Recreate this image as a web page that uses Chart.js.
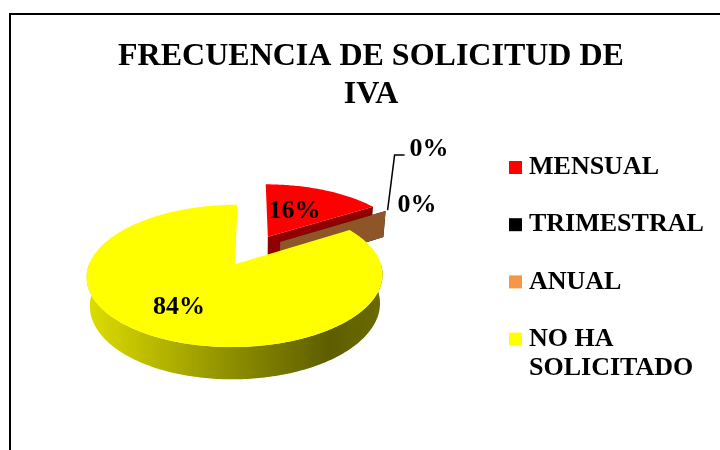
<!DOCTYPE html>
<html>
<head>
<meta charset="utf-8">
<script src="https://cdn.jsdelivr.net/npm/chart.js@4/dist/chart.umd.min.js"></script>
<style>
html,body{margin:0;padding:0;background:#fff;overflow:hidden}
#wrap{position:relative;width:720px;height:450px}
</style>
</head>
<body>
<div id="wrap"><canvas id="c" width="720" height="450"></canvas></div>
<script>
// ---- data ----
const categories = ['MENSUAL', 'TRIMESTRAL', 'ANUAL', 'NO HA SOLICITADO'];
const values = [16, 0, 0, 84];
const percentLabels = ['16%', '0%', '0%', '84%'];
const colors = ['#FF0000', '#000000', '#F79646', '#FFFF00'];
const titleLines = ['FRECUENCIA DE SOLICITUD DE', 'IVA'];

// ---- style ----
const FONT = '"Liberation Serif", "Times New Roman", serif';
const VIEW = { tilt: 27.3 * Math.PI / 180, dist: 786, depth: 32 };
const labelRadius = [0.48, 1, 1, 0.67];

function rgb(hex, f) {
  const n = parseInt(hex.slice(1), 16);
  const r = Math.round(((n >> 16) & 255) * f), g = Math.round(((n >> 8) & 255) * f), b = Math.round((n & 255) * f);
  return 'rgb(' + r + ',' + g + ',' + b + ')';
}

function makeProj(cx, cy) {
  const s1 = Math.sin(VIEW.tilt), c1 = Math.cos(VIEW.tilt);
  return function (X, Z, h) {
    const zc = Z * c1 + h * s1, yc = h * c1 - Z * s1, s = 1 / (1 - zc / VIEW.dist);
    return [cx + X * s, cy - yc * s];
  };
}

function geom(el) {
  const a1 = el.startAngle, a2 = el.endAngle, R = el.outerRadius, d = el.options.offset || 0;
  const m = (a1 + a2) / 2;
  return { a1, a2, R, m, ox: d * Math.cos(m), oz: d * Math.sin(m) };
}

function poly(c, pts, fill) {
  c.beginPath();
  c.moveTo(pts[0][0], pts[0][1]);
  for (let i = 1; i < pts.length; i++) c.lineTo(pts[i][0], pts[i][1]);
  c.closePath();
  c.fillStyle = fill;
  c.fill();
}

const pie3d = {
  id: 'pie3d',
  beforeDraw(chart) {
    const c = chart.ctx;
    c.save();
    c.fillStyle = '#fff';
    c.fillRect(0, 0, chart.width, chart.height);
    c.fillStyle = '#000';
    c.fillRect(9, 13, 2, chart.height);
    c.fillRect(9, 13, chart.width, 2);
    c.font = 'bold 32px ' + FONT;
    c.textAlign = 'center';
    c.textBaseline = 'alphabetic';
    titleLines.forEach((t, i) => c.fillText(t, 371, 65 + i * 38));
    c.restore();
  },
  beforeDatasetsDraw(chart) {
    const c = chart.ctx;
    const arcs = chart.getDatasetMeta(0).data;
    const P = makeProj(arcs[0].x, arcs[0].y);
    const H = VIEW.depth;
    const order = arcs.map((el, i) => i).sort((i, j) => Math.sin(geom(arcs[i]).m) - Math.sin(geom(arcs[j]).m));
    c.save();
    order.forEach(i => {
      const g = geom(arcs[i]);
      const col = colors[i];
      const rim = (t, h) => P(g.ox + g.R * Math.cos(t), g.oz + g.R * Math.sin(t), h);
      // outer wall (front part)
      const t1 = Math.max(g.a1, 0), t2 = Math.min(g.a2, Math.PI);
      if (t2 > t1 + 1e-6) {
        const n = Math.max(4, Math.ceil((t2 - t1) * 60));
        const top = [], bot = [];
        for (let k = 0; k <= n; k++) {
          const t = t1 + (t2 - t1) * k / n;
          top.push(rim(t, 0));
          bot.push(rim(t, -H));
        }
        const pts = top.concat(bot.reverse());
        let xmin = Infinity, xmax = -Infinity;
        pts.forEach(p => { xmin = Math.min(xmin, p[0]); xmax = Math.max(xmax, p[0]); });
        const gr = c.createLinearGradient(xmin, 0, xmax, 0);
        gr.addColorStop(0, rgb(col, 0.87));
        gr.addColorStop(0.5, rgb(col, 0.55));
        gr.addColorStop(0.82, rgb(col, 0.37));
        gr.addColorStop(1, rgb(col, 0.42));
        poly(c, pts, gr);
      }
      // radial walls facing the viewer
      const walls = [];
      if (-Math.cos(g.a1) > 1e-6 && g.a2 > g.a1) walls.push(g.a1);
      if (Math.cos(g.a2) > 1e-6) walls.push(g.a2);
      walls.forEach(a => {
        poly(c, [P(g.ox, g.oz, 0), rim(a, 0), rim(a, -H), P(g.ox, g.oz, -H)], rgb(col, 0.57));
      });
      // top face
      if (g.a2 - g.a1 > 1e-6) {
        const n = Math.max(4, Math.ceil((g.a2 - g.a1) * 60));
        const pts = [P(g.ox, g.oz, 0)];
        for (let k = 0; k <= n; k++) pts.push(rim(g.a1 + (g.a2 - g.a1) * k / n, 0));
        poly(c, pts, col);
      }
    });
    c.restore();
    return false;
  },
  afterDraw(chart) {
    const c = chart.ctx;
    const arcs = chart.getDatasetMeta(0).data;
    const P = makeProj(arcs[0].x, arcs[0].y);
    c.save();
    c.fillStyle = '#000';
    c.font = 'bold 26px ' + FONT;
    // data labels
    let zeroCount = 0;
    arcs.forEach((el, i) => {
      const g = geom(el);
      if (values[i] > 0) {
        const r = g.R * labelRadius[i];
        const p = P(g.ox + r * Math.cos(g.m), g.oz + r * Math.sin(g.m), 0);
        c.textAlign = 'center';
        c.textBaseline = 'middle';
        c.fillText(percentLabels[i], p[0] - 2, p[1] - 2);
      } else {
        const a = P(g.ox + g.R * Math.cos(g.m), g.oz + g.R * Math.sin(g.m), 0);
        c.textAlign = 'left';
        c.textBaseline = 'middle';
        if (zeroCount === 0) {
          c.strokeStyle = '#000';
          c.lineWidth = 1.5;
          c.beginPath();
          c.moveTo(a[0] + 2, a[1] - 1);
          c.lineTo(a[0] + 9, a[1] - 56);
          c.lineTo(a[0] + 19, a[1] - 56);
          c.stroke();
          c.fillText(percentLabels[i], a[0] + 24, a[1] - 62);
        } else {
          c.fillText(percentLabels[i], a[0] + 12, a[1] - 6);
        }
        zeroCount++;
      }
    });
    // legend
    const lx = 509, tx = 529, y0 = 167.5, step = 57.2, lh = 29.5, maxW = chart.width - tx - 4;
    c.textAlign = 'left';
    c.textBaseline = 'middle';
    categories.forEach((name, i) => {
      const y = y0 + i * step;
      c.fillStyle = colors[i];
      c.fillRect(lx, y - 6.5, 13, 13);
      c.fillStyle = '#000';
      const words = name.split(' ');
      const lines = [];
      let cur = '';
      words.forEach(w => {
        const test = cur ? cur + ' ' + w : w;
        if (cur && c.measureText(test).width > maxW) { lines.push(cur); cur = w; } else cur = test;
      });
      lines.push(cur);
      lines.forEach((ln, k) => c.fillText(ln, tx, y + k * lh));
    });
    c.restore();
  }
};

new Chart(document.getElementById('c'), {
  type: 'pie',
  data: {
    labels: categories,
    datasets: [{ data: values, backgroundColor: colors, borderWidth: 0, radius: 141, offset: 34 }]
  },
  options: {
    responsive: false,
    animation: false,
    events: [],
    layout: { padding: { left: 0, right: 216, top: 108, bottom: 58 } },
    plugins: { legend: { display: false }, title: { display: false }, tooltip: { enabled: false } }
  },
  plugins: [pie3d]
});
</script>
</body>
</html>
